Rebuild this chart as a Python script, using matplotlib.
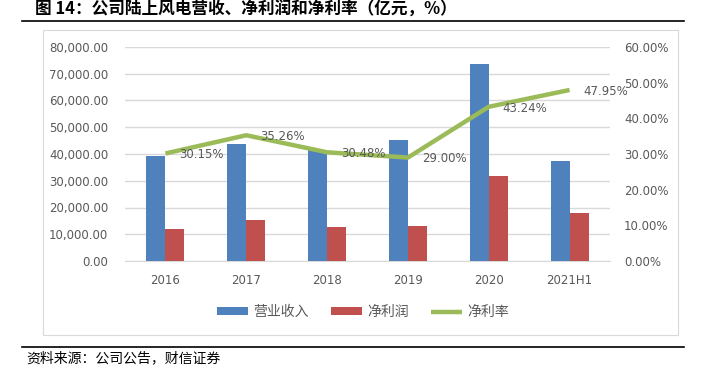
import numpy as np
import matplotlib
matplotlib.use("Agg")
import matplotlib.pyplot as plt
from matplotlib.patches import Rectangle
from matplotlib.lines import Line2D
from matplotlib.ticker import FuncFormatter

plt.rcParams['font.family'] = ['DejaVu Sans', 'Noto Sans CJK SC']

# 数据（亿元，%）
years = ['2016', '2017', '2018', '2019', '2020', '2021H1']
revenue = [39400, 43750, 41500, 45250, 73650, 37500]
profit = [11880, 15420, 12650, 13120, 31850, 17980]
margin = [30.15, 35.26, 30.48, 29.00, 43.24, 47.95]

BLUE = '#4F81BD'
RED = '#C0504D'
GREEN = '#9BBB59'
GREY = '#595959'
GRID = '#D9D9D9'
CJK = ['Noto Sans CJK SC', 'DejaVu Sans']

fig = plt.figure(figsize=(7.06, 3.67), dpi=100)
W, H = 706, 367

# ── 外框、标题、来源 ─────────────────────────────
fig.patches.append(Rectangle((43 / W, 1 - 335 / H), 635 / W, 305 / H,
                             transform=fig.transFigure, fill=False,
                             edgecolor='#D9D9D9', linewidth=0.8))
fig.add_artist(Line2D([22 / W, 1 - 22 / W], [1 - 21 / H] * 2,
                      transform=fig.transFigure, color='black', linewidth=1.2))
fig.add_artist(Line2D([22 / W, 1 - 22 / W], [1 - 347 / H] * 2,
                      transform=fig.transFigure, color='black', linewidth=1.2))
fig.text(35 / W, 1 - 10 / H, '图 14：公司陆上风电营收、净利润和净利率（亿元，%）',
         fontsize=12, fontweight='bold', va='center', ha='left', family=CJK)
fig.text(26 / W, 1 - 358 / H, '资料来源：公司公告，财信证券',
         fontsize=10, va='center', ha='left', style='italic', family=CJK)

# ── 主图 ───────────────────────────────────────
ax = fig.add_axes([125 / W, 1 - 261 / H, 485 / W, 214 / H])
x = np.arange(len(years))
bw = 0.235
ax.bar(x - bw / 2, revenue, bw, color=BLUE, label='营业收入', zorder=3)
ax.bar(x + bw / 2, profit, bw, color=RED, label='净利润', zorder=3)
ax.set_xlim(-0.5, len(years) - 0.5)
ax.set_ylim(0, 80000)
ax.set_yticks(np.arange(0, 80001, 10000))
ax.yaxis.set_major_formatter(FuncFormatter(lambda v, p: f'{v:,.2f}'))
ax.set_xticks(x)
ax.set_xticklabels(years)
ax.grid(axis='y', color=GRID, linewidth=1, zorder=0)
for s in ['top', 'right', 'left']:
    ax.spines[s].set_visible(False)
ax.spines['bottom'].set_color(GRID)
ax.tick_params(length=0, colors=GREY, labelsize=8.5)
ax.tick_params(axis='y', pad=12)
ax.tick_params(axis='x', pad=9)

ax2 = ax.twinx()
ax2.plot(x, margin, color=GREEN, linewidth=3.2, label='净利率', zorder=4,
         solid_capstyle='butt')
ax2.set_ylim(0, 60)
ax2.set_yticks(np.arange(0, 61, 10))
ax2.yaxis.set_major_formatter(FuncFormatter(lambda v, p: f'{v:.2f}%'))
for s in ax2.spines.values():
    s.set_visible(False)
ax2.tick_params(length=0, colors=GREY, labelsize=8.5, pad=10)
for xi, m in zip(x, margin):
    ax2.annotate(f'{m:.2f}%', (xi, m), xytext=(10, -1), textcoords='offset points',
                 ha='left', va='center', fontsize=8.5, color=GREY, zorder=5)

# ── 图例 ───────────────────────────────────────
h1, l1 = ax.get_legend_handles_labels()
h2, l2 = ax2.get_legend_handles_labels()
leg = fig.legend(h1 + h2, l1 + l2, loc='center', bbox_to_anchor=(363 / W, 1 - 312 / H),
                 ncol=3, frameon=False, handlelength=2.2, handleheight=0.5,
                 columnspacing=1.6, handletextpad=0.4,
                 prop={'family': CJK, 'size': 10})
for t in leg.get_texts():
    t.set_color(GREY)

fig.savefig('out.png', dpi=100)
